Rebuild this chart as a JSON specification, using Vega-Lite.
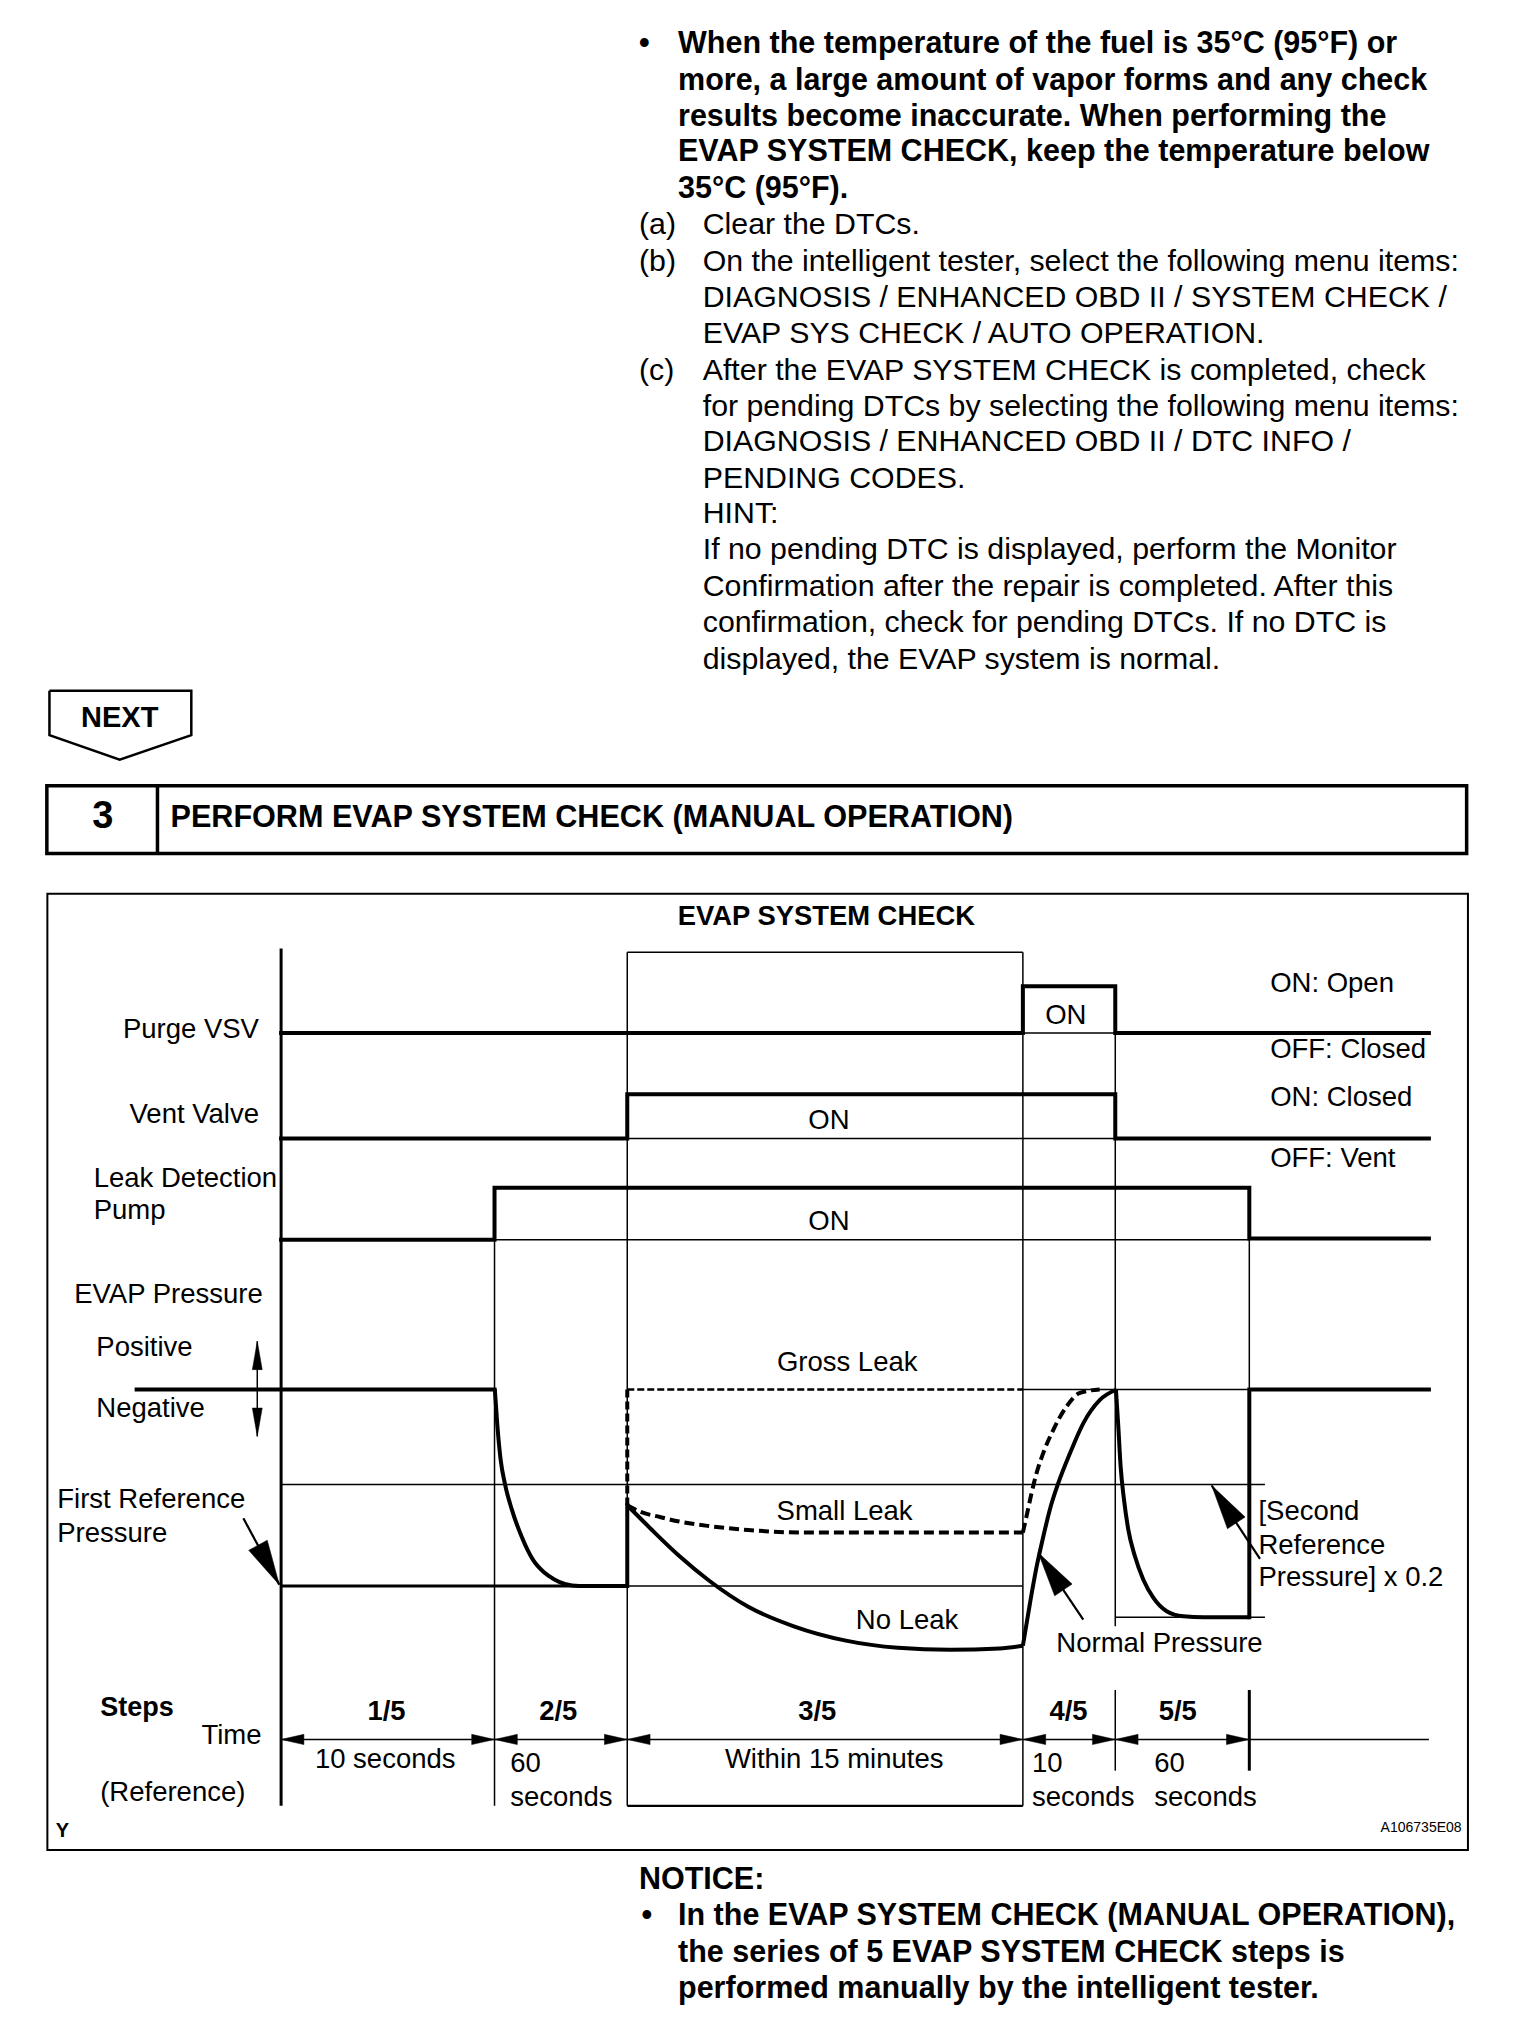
{
  "$schema": "https://vega.github.io/schema/vega-lite/v6.json",
  "width": 1520,
  "height": 2040,
  "autosize": {"type": "fit", "contains": "padding"},
  "padding": 0,
  "background": "white",
  "config": {"view": {"stroke": null}},
  "datasets": {
    "paths": [
      {"p": "purge", "i": 1, "x": 216, "y": 794}, {"p": "purge", "i": 2, "x": 786, "y": 794}, {"p": "purge", "i": 3, "x": 786, "y": 758}, {"p": "purge", "i": 4, "x": 857, "y": 758}, {"p": "purge", "i": 5, "x": 857, "y": 794}, {"p": "purge", "i": 6, "x": 1098, "y": 794},
      {"p": "vent", "i": 1, "x": 216, "y": 875}, {"p": "vent", "i": 2, "x": 482, "y": 875}, {"p": "vent", "i": 3, "x": 482, "y": 841}, {"p": "vent", "i": 4, "x": 857, "y": 841}, {"p": "vent", "i": 5, "x": 857, "y": 875}, {"p": "vent", "i": 6, "x": 1098, "y": 875},
      {"p": "pump", "i": 1, "x": 216, "y": 953}, {"p": "pump", "i": 2, "x": 380, "y": 953}, {"p": "pump", "i": 3, "x": 380, "y": 913}, {"p": "pump", "i": 4, "x": 960, "y": 913}, {"p": "pump", "i": 5, "x": 960, "y": 952}, {"p": "pump", "i": 6, "x": 1098, "y": 952},
      {"p": "pbase", "i": 1, "x": 105, "y": 1068}, {"p": "pbase", "i": 2, "x": 380, "y": 1068},
      {"p": "pvert", "i": 1, "x": 482, "y": 1219}, {"p": "pvert", "i": 2, "x": 482, "y": 1157},
      {"p": "pend", "i": 1, "x": 960, "y": 1243}, {"p": "pend", "i": 2, "x": 960, "y": 1068}, {"p": "pend", "i": 3, "x": 1098, "y": 1068},
      {"p": "next", "i": 1, "x": 38, "y": 531}, {"p": "next", "i": 2, "x": 147, "y": 531}, {"p": "next", "i": 3, "x": 147, "y": 565}, {"p": "next", "i": 4, "x": 92, "y": 584}, {"p": "next", "i": 5, "x": 38, "y": 565}, {"p": "next", "i": 6, "x": 38, "y": 531},
      {"p": "pumpdown", "i": 1, "x": 380.2, "y": 1067.5}, {"p": "pumpdown", "i": 2, "x": 382.2, "y": 1096}, {"p": "pumpdown", "i": 3, "x": 384.7, "y": 1122}, {"p": "pumpdown", "i": 4, "x": 388, "y": 1140.5}, {"p": "pumpdown", "i": 5, "x": 393.2, "y": 1160}, {"p": "pumpdown", "i": 6, "x": 400.8, "y": 1181}, {"p": "pumpdown", "i": 7, "x": 409.6, "y": 1199}, {"p": "pumpdown", "i": 8, "x": 418, "y": 1208.5}, {"p": "pumpdown", "i": 9, "x": 426, "y": 1214}, {"p": "pumpdown", "i": 10, "x": 434, "y": 1217.5}, {"p": "pumpdown", "i": 11, "x": 445, "y": 1219}, {"p": "pumpdown", "i": 12, "x": 482, "y": 1219},
      {"p": "noleak1", "i": 1, "x": 482, "y": 1157}, {"p": "noleak1", "i": 2, "x": 500, "y": 1175}, {"p": "noleak1", "i": 3, "x": 522, "y": 1196}, {"p": "noleak1", "i": 4, "x": 545, "y": 1215}, {"p": "noleak1", "i": 5, "x": 575, "y": 1235}, {"p": "noleak1", "i": 6, "x": 610, "y": 1250}, {"p": "noleak1", "i": 7, "x": 650, "y": 1261}, {"p": "noleak1", "i": 8, "x": 690, "y": 1266.5}, {"p": "noleak1", "i": 9, "x": 730, "y": 1268}, {"p": "noleak1", "i": 10, "x": 768, "y": 1267}, {"p": "noleak1", "i": 11, "x": 786, "y": 1265},
      {"p": "noleak2", "i": 1, "x": 786, "y": 1265}, {"p": "noleak2", "i": 2, "x": 791.5, "y": 1232}, {"p": "noleak2", "i": 3, "x": 796.6, "y": 1204}, {"p": "noleak2", "i": 4, "x": 801.7, "y": 1181}, {"p": "noleak2", "i": 5, "x": 806.8, "y": 1160}, {"p": "noleak2", "i": 6, "x": 813.2, "y": 1140}, {"p": "noleak2", "i": 7, "x": 822.2, "y": 1117}, {"p": "noleak2", "i": 8, "x": 832.4, "y": 1094}, {"p": "noleak2", "i": 9, "x": 845.2, "y": 1076}, {"p": "noleak2", "i": 10, "x": 858, "y": 1068},
      {"p": "drop5", "i": 1, "x": 857.5, "y": 1068}, {"p": "drop5", "i": 2, "x": 859.3, "y": 1096}, {"p": "drop5", "i": 3, "x": 861.1, "y": 1127}, {"p": "drop5", "i": 4, "x": 863.7, "y": 1152.6}, {"p": "drop5", "i": 5, "x": 867, "y": 1175.7}, {"p": "drop5", "i": 6, "x": 872.1, "y": 1196.2}, {"p": "drop5", "i": 7, "x": 878.5, "y": 1214}, {"p": "drop5", "i": 8, "x": 886.2, "y": 1228}, {"p": "drop5", "i": 9, "x": 896.5, "y": 1238.4}, {"p": "drop5", "i": 10, "x": 909.3, "y": 1242.3}, {"p": "drop5", "i": 11, "x": 925, "y": 1243}, {"p": "drop5", "i": 12, "x": 960, "y": 1243},
      {"p": "small1", "i": 1, "x": 482, "y": 1157}, {"p": "small1", "i": 2, "x": 492, "y": 1162}, {"p": "small1", "i": 3, "x": 507, "y": 1166}, {"p": "small1", "i": 4, "x": 522, "y": 1169.5}, {"p": "small1", "i": 5, "x": 545, "y": 1173}, {"p": "small1", "i": 6, "x": 575, "y": 1176}, {"p": "small1", "i": 7, "x": 620, "y": 1178}, {"p": "small1", "i": 8, "x": 786, "y": 1178},
      {"p": "small2", "i": 1, "x": 786, "y": 1178}, {"p": "small2", "i": 2, "x": 788.9, "y": 1165}, {"p": "small2", "i": 3, "x": 792.7, "y": 1147.5}, {"p": "small2", "i": 4, "x": 796.6, "y": 1132}, {"p": "small2", "i": 5, "x": 801.7, "y": 1116.7}, {"p": "small2", "i": 6, "x": 809.4, "y": 1099}, {"p": "small2", "i": 7, "x": 819.6, "y": 1081}, {"p": "small2", "i": 8, "x": 829.9, "y": 1070.6}, {"p": "small2", "i": 9, "x": 845, "y": 1068},
      {"p": "dvert", "i": 1, "x": 482, "y": 1068}, {"p": "dvert", "i": 2, "x": 482, "y": 1157},
      {"p": "gross", "i": 1, "x": 482, "y": 1068}, {"p": "gross", "i": 2, "x": 786, "y": 1068}
    ],
    "segs": [
      {"s": "g380", "x": 380, "y": 913, "x2": 380, "y2": 1388},
      {"s": "box482", "x": 482, "y": 732, "x2": 482, "y2": 1388},
      {"s": "box786", "x": 786, "y": 732, "x2": 786, "y2": 1388},
      {"s": "boxtop", "x": 482, "y": 732, "x2": 786, "y2": 732},
      {"s": "boxbot", "x": 482, "y": 1388, "x2": 786, "y2": 1388},
      {"s": "g857", "x": 857, "y": 794, "x2": 857, "y2": 1250},
      {"s": "t857", "x": 857, "y": 1299, "x2": 857, "y2": 1361},
      {"s": "g960", "x": 960, "y": 952, "x2": 960, "y2": 1068},
      {"s": "purgebase", "x": 786, "y": 794, "x2": 857, "y2": 794},
      {"s": "ventbase", "x": 482, "y": 875, "x2": 857, "y2": 875},
      {"s": "pumpbase", "x": 380, "y": 953, "x2": 960, "y2": 953},
      {"s": "h1141", "x": 216, "y": 1141, "x2": 972, "y2": 1141},
      {"s": "h1219b", "x": 482, "y": 1219, "x2": 786, "y2": 1219},
      {"s": "h1243", "x": 857, "y": 1243, "x2": 972, "y2": 1243},
      {"s": "h1068b", "x": 786, "y": 1068, "x2": 960, "y2": 1068},
      {"s": "time", "x": 216, "y": 1337, "x2": 1098, "y2": 1337},
      {"s": "dbl", "x": 197.7, "y": 1031, "x2": 197.7, "y2": 1104},
      {"s": "arr1", "x": 187, "y": 1167, "x2": 214.6, "y2": 1218},
      {"s": "arr2", "x": 832.4, "y": 1244.8, "x2": 797.9, "y2": 1193.6},
      {"s": "arr3", "x": 968.2, "y": 1198.2, "x2": 931.1, "y2": 1141.8},
      {"s": "axis", "x": 216, "y": 729, "x2": 216, "y2": 1388},
      {"s": "h1219a", "x": 216, "y": 1219, "x2": 482, "y2": 1219},
      {"s": "t960", "x": 960, "y": 1299, "x2": 960, "y2": 1361},
      {"s": "divider", "x": 121, "y": 604, "x2": 121, "y2": 656}
    ],
    "heads": [
      {"h": "small", "x": 216, "y": 1337, "heading": 270}, {"h": "small", "x": 380, "y": 1337, "heading": 270}, {"h": "small", "x": 482, "y": 1337, "heading": 270}, {"h": "small", "x": 786, "y": 1337, "heading": 270}, {"h": "small", "x": 857, "y": 1337, "heading": 270},
      {"h": "small", "x": 380, "y": 1337, "heading": 90}, {"h": "small", "x": 482, "y": 1337, "heading": 90}, {"h": "small", "x": 786, "y": 1337, "heading": 90}, {"h": "small", "x": 857, "y": 1337, "heading": 90}, {"h": "small", "x": 960, "y": 1337, "heading": 90},
      {"h": "mid", "x": 197.7, "y": 1031, "heading": 0}, {"h": "mid", "x": 197.7, "y": 1104, "heading": 180},
      {"h": "large", "x": 214.6, "y": 1218, "heading": 151.6}, {"h": "large", "x": 797.9, "y": 1193.6, "heading": 326}, {"h": "large", "x": 931.1, "y": 1141.8, "heading": 326.7}
    ],
    "frames": [
      {"f": "diagram", "x": 36.4, "y": 687, "x2": 1128, "y2": 1422},
      {"f": "header", "x": 36, "y": 604, "x2": 1127, "y2": 656}
    ],
    "texts": [
      {"g": "bodyBold", "x": 491, "y": 34, "t": "•"},
      {"g": "bodyBold", "x": 521, "y": 34, "t": "When the temperature of the fuel is 35°C (95°F) or"},
      {"g": "bodyBold", "x": 521, "y": 62, "t": "more, a large amount of vapor forms and any check"},
      {"g": "bodyBold", "x": 521, "y": 90, "t": "results become inaccurate. When performing the"},
      {"g": "bodyBold", "x": 521, "y": 117, "t": "EVAP SYSTEM CHECK, keep the temperature below"},
      {"g": "bodyBold", "x": 521, "y": 145, "t": "35°C (95°F)."},
      {"g": "bodyBold", "x": 491, "y": 1445, "t": "NOTICE:"},
      {"g": "bodyBold", "x": 493, "y": 1473, "t": "•"},
      {"g": "bodyBold", "x": 521, "y": 1473, "t": "In the EVAP SYSTEM CHECK (MANUAL OPERATION),"},
      {"g": "bodyBold", "x": 521, "y": 1501, "t": "the series of 5 EVAP SYSTEM CHECK steps is"},
      {"g": "bodyBold", "x": 521, "y": 1529, "t": "performed manually by the intelligent tester."},
      {"g": "body", "x": 491, "y": 173, "t": "(a)"},
      {"g": "body", "x": 540, "y": 173, "t": "Clear the DTCs."},
      {"g": "body", "x": 491, "y": 201, "t": "(b)"},
      {"g": "body", "x": 540, "y": 201, "t": "On the intelligent tester, select the following menu items:"},
      {"g": "body", "x": 540, "y": 229, "t": "DIAGNOSIS / ENHANCED OBD II / SYSTEM CHECK /"},
      {"g": "body", "x": 540, "y": 257, "t": "EVAP SYS CHECK / AUTO OPERATION."},
      {"g": "body", "x": 491, "y": 285, "t": "(c)"},
      {"g": "body", "x": 540, "y": 285, "t": "After the EVAP SYSTEM CHECK is completed, check"},
      {"g": "body", "x": 540, "y": 313, "t": "for pending DTCs by selecting the following menu items:"},
      {"g": "body", "x": 540, "y": 340, "t": "DIAGNOSIS / ENHANCED OBD II / DTC INFO /"},
      {"g": "body", "x": 540, "y": 368, "t": "PENDING CODES."},
      {"g": "body", "x": 540, "y": 395, "t": "HINT:"},
      {"g": "body", "x": 540, "y": 423, "t": "If no pending DTC is displayed, perform the Monitor"},
      {"g": "body", "x": 540, "y": 451, "t": "Confirmation after the repair is completed. After this"},
      {"g": "body", "x": 540, "y": 479, "t": "confirmation, check for pending DTCs. If no DTC is"},
      {"g": "body", "x": 540, "y": 507, "t": "displayed, the EVAP system is normal."},
      {"g": "header", "x": 131, "y": 629, "t": "PERFORM EVAP SYSTEM CHECK (MANUAL OPERATION)"},
      {"g": "num", "x": 79, "y": 628, "t": "3"},
      {"g": "next", "x": 92, "y": 552, "t": "NEXT"},
      {"g": "dRight", "x": 199, "y": 792, "t": "Purge VSV"},
      {"g": "dRight", "x": 199, "y": 857, "t": "Vent Valve"},
      {"g": "dRight", "x": 201, "y": 1334, "t": "Time"},
      {"g": "dLeft", "x": 72, "y": 906, "t": "Leak Detection"},
      {"g": "dLeft", "x": 72, "y": 931, "t": "Pump"},
      {"g": "dLeft", "x": 57, "y": 995, "t": "EVAP Pressure"},
      {"g": "dLeft", "x": 74, "y": 1036, "t": "Positive"},
      {"g": "dLeft", "x": 74, "y": 1083, "t": "Negative"},
      {"g": "dLeft", "x": 44, "y": 1153, "t": "First Reference"},
      {"g": "dLeft", "x": 44, "y": 1179, "t": "Pressure"},
      {"g": "dLeft", "x": 77, "y": 1378, "t": "(Reference)"},
      {"g": "dLeft", "x": 976, "y": 756, "t": "ON: Open"},
      {"g": "dLeft", "x": 976, "y": 807, "t": "OFF: Closed"},
      {"g": "dLeft", "x": 976, "y": 844, "t": "ON: Closed"},
      {"g": "dLeft", "x": 976, "y": 891, "t": "OFF: Vent"},
      {"g": "dLeft", "x": 967, "y": 1162, "t": "[Second"},
      {"g": "dLeft", "x": 967, "y": 1188, "t": "Reference"},
      {"g": "dLeft", "x": 967, "y": 1213, "t": "Pressure] x 0.2"},
      {"g": "dLeft", "x": 392, "y": 1356, "t": "60"},
      {"g": "dLeft", "x": 392, "y": 1382, "t": "seconds"},
      {"g": "dLeft", "x": 793, "y": 1356, "t": "10"},
      {"g": "dLeft", "x": 793, "y": 1382, "t": "seconds"},
      {"g": "dLeft", "x": 887, "y": 1356, "t": "60"},
      {"g": "dLeft", "x": 887, "y": 1382, "t": "seconds"},
      {"g": "dCenter", "x": 819, "y": 781, "t": "ON"},
      {"g": "dCenter", "x": 637, "y": 862, "t": "ON"},
      {"g": "dCenter", "x": 637, "y": 939, "t": "ON"},
      {"g": "dCenter", "x": 651, "y": 1048, "t": "Gross Leak"},
      {"g": "dCenter", "x": 649, "y": 1162, "t": "Small Leak"},
      {"g": "dCenter", "x": 697, "y": 1246, "t": "No Leak"},
      {"g": "dCenter", "x": 891, "y": 1264, "t": "Normal Pressure"},
      {"g": "dCenter", "x": 296, "y": 1353, "t": "10 seconds"},
      {"g": "dCenter", "x": 641, "y": 1353, "t": "Within 15 minutes"},
      {"g": "dBoldCenter", "x": 635, "y": 705, "t": "EVAP SYSTEM CHECK"},
      {"g": "dBoldCenter", "x": 297, "y": 1316, "t": "1/5"},
      {"g": "dBoldCenter", "x": 429, "y": 1316, "t": "2/5"},
      {"g": "dBoldCenter", "x": 628, "y": 1316, "t": "3/5"},
      {"g": "dBoldCenter", "x": 821, "y": 1316, "t": "4/5"},
      {"g": "dBoldCenter", "x": 905, "y": 1316, "t": "5/5"},
      {"g": "dBoldLeft", "x": 77, "y": 1313, "t": "Steps"},
      {"g": "tagY", "x": 48, "y": 1407, "t": "Y"},
      {"g": "code", "x": 1092, "y": 1405, "t": "A106735E08"}
    ]
  },
  "encoding": {
    "x": {"field": "x", "type": "quantitative", "scale": {"domain": [0, 1168], "nice": false, "zero": false}, "axis": null},
    "y": {"field": "y", "type": "quantitative", "scale": {"domain": [0, 1568], "nice": false, "zero": false, "reverse": true}, "axis": null}
  },
  "layer": [
    {"data": {"name": "frames"}, "transform": [{"filter": "datum.f === 'diagram'"}], "mark": {"type": "rect", "filled": false, "stroke": "black", "strokeWidth": 2}, "encoding": {"x2": {"field": "x2"}, "y2": {"field": "y2"}}},
    {"data": {"name": "frames"}, "transform": [{"filter": "datum.f === 'header'"}], "mark": {"type": "rect", "filled": false, "stroke": "black", "strokeWidth": 3.5}, "encoding": {"x2": {"field": "x2"}, "y2": {"field": "y2"}}},
    {"data": {"name": "segs"}, "transform": [{"filter": {"field": "s", "oneOf": ["divider"]}}], "mark": {"type": "rule", "color": "black", "strokeWidth": 3.5}, "encoding": {"x2": {"field": "x2"}, "y2": {"field": "y2"}}},
    {"data": {"name": "segs"}, "transform": [{"filter": {"field": "s", "oneOf": ["g380", "box482", "box786", "boxtop", "g857", "t857", "g960", "purgebase", "ventbase", "pumpbase", "h1141", "h1219b", "h1243", "h1068b", "time", "dbl"]}}], "mark": {"type": "rule", "color": "black", "strokeWidth": 1.5}, "encoding": {"x2": {"field": "x2"}, "y2": {"field": "y2"}}},
    {"data": {"name": "segs"}, "transform": [{"filter": {"field": "s", "oneOf": ["arr1", "arr2", "arr3", "boxbot"]}}], "mark": {"type": "rule", "color": "black", "strokeWidth": 2.2}, "encoding": {"x2": {"field": "x2"}, "y2": {"field": "y2"}}},
    {"data": {"name": "segs"}, "transform": [{"filter": {"field": "s", "oneOf": ["axis", "h1219a", "t960"]}}], "mark": {"type": "rule", "color": "black", "strokeWidth": 3}, "encoding": {"x2": {"field": "x2"}, "y2": {"field": "y2"}}},
    {"data": {"name": "paths"}, "transform": [{"filter": {"field": "p", "oneOf": ["next"]}}], "mark": {"type": "line", "color": "black", "strokeWidth": 2.5, "strokeJoin": "miter"}, "encoding": {"detail": {"field": "p"}, "order": {"field": "i", "type": "quantitative"}}},
    {"data": {"name": "paths"}, "transform": [{"filter": {"field": "p", "oneOf": ["purge", "vent", "pump", "pbase", "pvert", "pend"]}}], "mark": {"type": "line", "color": "black", "strokeWidth": 4, "strokeJoin": "miter", "strokeCap": "square"}, "encoding": {"detail": {"field": "p"}, "order": {"field": "i", "type": "quantitative"}}},
    {"data": {"name": "paths"}, "transform": [{"filter": {"field": "p", "oneOf": ["pumpdown", "noleak1", "noleak2", "drop5"]}}], "mark": {"type": "line", "color": "black", "strokeWidth": 4, "interpolate": "monotone"}, "encoding": {"detail": {"field": "p"}, "order": {"field": "i", "type": "quantitative"}}},
    {"data": {"name": "paths"}, "transform": [{"filter": {"field": "p", "oneOf": ["small1", "small2"]}}], "mark": {"type": "line", "color": "black", "strokeWidth": 4, "interpolate": "monotone", "strokeDash": [10, 5]}, "encoding": {"detail": {"field": "p"}, "order": {"field": "i", "type": "quantitative"}}},
    {"data": {"name": "paths"}, "transform": [{"filter": {"field": "p", "oneOf": ["dvert"]}}], "mark": {"type": "line", "color": "black", "strokeWidth": 4, "strokeDash": [8, 4]}, "encoding": {"detail": {"field": "p"}, "order": {"field": "i", "type": "quantitative"}}},
    {"data": {"name": "paths"}, "transform": [{"filter": {"field": "p", "oneOf": ["gross"]}}], "mark": {"type": "line", "color": "black", "strokeWidth": 2.5, "strokeDash": [7, 3]}, "encoding": {"detail": {"field": "p"}, "order": {"field": "i", "type": "quantitative"}}},
    {"data": {"name": "heads"}, "transform": [{"filter": "datum.h === 'small'"}], "mark": {"type": "point", "filled": true, "fill": "black", "stroke": "black", "fillOpacity": 1, "strokeOpacity": 1, "opacity": 1, "strokeWidth": 0.5, "size": 130, "shape": "M0,0L0.9,4L-0.9,4Z"}, "encoding": {"angle": {"field": "heading", "type": "quantitative", "scale": null}}},
    {"data": {"name": "heads"}, "transform": [{"filter": "datum.h === 'mid'"}], "mark": {"type": "point", "filled": true, "fill": "black", "stroke": "black", "fillOpacity": 1, "strokeOpacity": 1, "opacity": 1, "strokeWidth": 0.5, "size": 200, "shape": "M0,0L0.7,4L-0.7,4Z"}, "encoding": {"angle": {"field": "heading", "type": "quantitative", "scale": null}}},
    {"data": {"name": "heads"}, "transform": [{"filter": "datum.h === 'large'"}], "mark": {"type": "point", "filled": true, "fill": "black", "stroke": "black", "fillOpacity": 1, "strokeOpacity": 1, "opacity": 1, "strokeWidth": 0.5, "size": 2000, "shape": "M0,0L0.47,2L-0.47,2Z"}, "encoding": {"angle": {"field": "heading", "type": "quantitative", "scale": null}}},
    {"data": {"name": "texts"}, "transform": [{"filter": "datum.g === 'bodyBold'"}], "mark": {"type": "text", "color": "black", "font": "Liberation Sans", "fontSize": 30.5, "fontWeight": "bold", "align": "left", "baseline": "middle"}, "encoding": {"text": {"field": "t"}}},
    {"data": {"name": "texts"}, "transform": [{"filter": "datum.g === 'body'"}], "mark": {"type": "text", "color": "black", "font": "Liberation Sans", "fontSize": 30.3, "align": "left", "baseline": "middle"}, "encoding": {"text": {"field": "t"}}},
    {"data": {"name": "texts"}, "transform": [{"filter": "datum.g === 'header'"}], "mark": {"type": "text", "color": "black", "font": "Liberation Sans", "fontSize": 30.6, "fontWeight": "bold", "align": "left", "baseline": "middle"}, "encoding": {"text": {"field": "t"}}},
    {"data": {"name": "texts"}, "transform": [{"filter": "datum.g === 'num'"}], "mark": {"type": "text", "color": "black", "font": "Liberation Sans", "fontSize": 38, "fontWeight": "bold", "align": "center", "baseline": "middle"}, "encoding": {"text": {"field": "t"}}},
    {"data": {"name": "texts"}, "transform": [{"filter": "datum.g === 'next'"}], "mark": {"type": "text", "color": "black", "font": "Liberation Sans", "fontSize": 29, "fontWeight": "bold", "align": "center", "baseline": "middle"}, "encoding": {"text": {"field": "t"}}},
    {"data": {"name": "texts"}, "transform": [{"filter": "datum.g === 'dRight'"}], "mark": {"type": "text", "color": "black", "font": "Liberation Sans", "fontSize": 27.5, "align": "right", "baseline": "middle"}, "encoding": {"text": {"field": "t"}}},
    {"data": {"name": "texts"}, "transform": [{"filter": "datum.g === 'dLeft'"}], "mark": {"type": "text", "color": "black", "font": "Liberation Sans", "fontSize": 27.5, "align": "left", "baseline": "middle"}, "encoding": {"text": {"field": "t"}}},
    {"data": {"name": "texts"}, "transform": [{"filter": "datum.g === 'dCenter'"}], "mark": {"type": "text", "color": "black", "font": "Liberation Sans", "fontSize": 27.5, "align": "center", "baseline": "middle"}, "encoding": {"text": {"field": "t"}}},
    {"data": {"name": "texts"}, "transform": [{"filter": "datum.g === 'dBoldCenter'"}], "mark": {"type": "text", "color": "black", "font": "Liberation Sans", "fontSize": 27.4, "fontWeight": "bold", "align": "center", "baseline": "middle"}, "encoding": {"text": {"field": "t"}}},
    {"data": {"name": "texts"}, "transform": [{"filter": "datum.g === 'dBoldLeft'"}], "mark": {"type": "text", "color": "black", "font": "Liberation Sans", "fontSize": 27, "fontWeight": "bold", "align": "left", "baseline": "middle"}, "encoding": {"text": {"field": "t"}}},
    {"data": {"name": "texts"}, "transform": [{"filter": "datum.g === 'tagY'"}], "mark": {"type": "text", "color": "black", "font": "Liberation Sans", "fontSize": 20, "fontWeight": "bold", "align": "center", "baseline": "middle"}, "encoding": {"text": {"field": "t"}}},
    {"data": {"name": "texts"}, "transform": [{"filter": "datum.g === 'code'"}], "mark": {"type": "text", "color": "black", "font": "Liberation Sans", "fontSize": 14, "align": "center", "baseline": "middle"}, "encoding": {"text": {"field": "t"}}}
  ]
}
